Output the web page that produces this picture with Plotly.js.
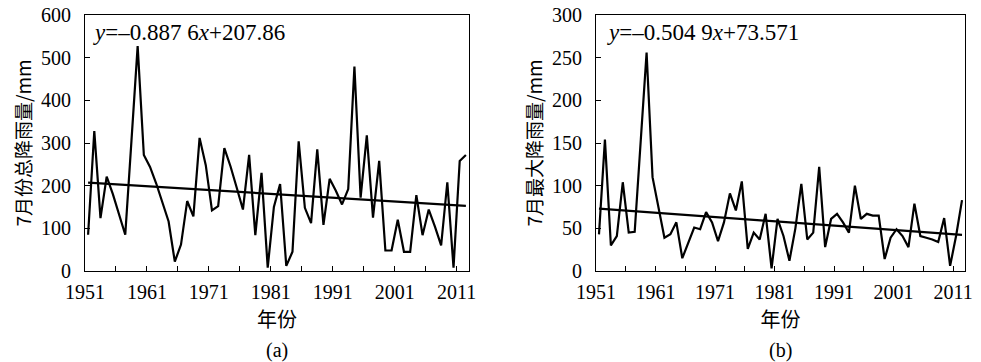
<!DOCTYPE html>
<html>
<head>
<meta charset="utf-8">
<script src="https://cdn.plot.ly/plotly-3.0.1.min.js"></script>
<style>html,body{margin:0;padding:0;background:#fff;}#chart{width:981px;height:362px;}</style>
</head>
<body>
<div id="chart"></div>
<script>
// Years 1951–2012
const years = [];
for (let y = 1951; y <= 2012; y++) years.push(y);

// (a) July total rainfall (mm)
const totalRain = [85,328,124,221,180,130,85,305,527,272,
  244,205,160,116,22,62,164,128,312,248,
  142,152,288,245,195,144,272,84,230,8,
  150,204,12,45,304,148,112,285,108,216,
  188,156,192,479,172,318,125,258,48,48,
  120,45,45,178,84,144,104,60,208,8,
  258,272];

// (b) July maximum rainfall (mm)
const maxRain = [43,154,30,41,104,45,46,150,256,110,
  75,39,43,57,15,33,51,49,69,57,
  35,57,91,71,105,26,45,37,67,3,
  61,41,12,50,102,37,45,122,28,61,
  67,57,45,100,61,67,65,65,14,39,
  49,41,28,79,41,39,37,34,62,6,
  41,83];

// Regression coefficients (x = 1..62)
const trendA = {slope: -0.8876, intercept: 207.86};
const trendB = {slope: -0.5049, intercept: 73.571};

const tickLabels = [1951,1961,1971,1981,1991,2001,2011];
const yTicksA = [0,100,200,300,400,500,600];
const yTicksB = [0,50,100,150,200,250,300];

const trendVals = (c) => years.map((y, i) => c.slope * (i + 1) + c.intercept);

const serif = 'Liberation Serif, Times New Roman, serif';
const cjk = 'Noto Sans CJK SC, sans-serif';

const lineStyle = {color: '#000', width: 2.2};

const traces = [
  {x: years, y: totalRain, type: 'scatter', mode: 'lines', line: lineStyle, xaxis: 'x', yaxis: 'y'},
  {x: years, y: trendVals(trendA), type: 'scatter', mode: 'lines', line: lineStyle, xaxis: 'x', yaxis: 'y'},
  {x: years, y: maxRain, type: 'scatter', mode: 'lines', line: lineStyle, xaxis: 'x2', yaxis: 'y2'},
  {x: years, y: trendVals(trendB), type: 'scatter', mode: 'lines', line: lineStyle, xaxis: 'x2', yaxis: 'y2'}
];

function xAxis(domain, anchor) {
  return {
    domain: domain, anchor: anchor,
    range: [1950.5, 2012.5],
    tickmode: 'array',
    tickvals: tickLabels.map(v => v - 0.5),
    ticktext: tickLabels.map(String),
    ticks: 'inside', ticklen: 5, tickcolor: '#000', tickwidth: 1,
    ticklabelstandoff: 3,
    minor: {tickmode: 'linear', tick0: 1950.5, dtick: 5, ticks: 'inside', ticklen: 5, tickcolor: '#000', tickwidth: 1, showgrid: false},
    showline: true, linecolor: '#000', linewidth: 1, mirror: true,
    showgrid: false, zeroline: false,
    tickfont: {family: serif, size: 20, color: '#000'},
    title: {text: '年份', font: {family: cjk, size: 20, color: '#000'}, standoff: 10},
    fixedrange: true
  };
}
function yAxis(domain, anchor, range, ticks, title) {
  return {
    domain: domain, anchor: anchor,
    range: range,
    tickmode: 'array', tickvals: ticks, ticktext: ticks.map(String),
    ticks: 'inside', ticklen: 5, tickcolor: '#000', tickwidth: 1,
    ticklabelstandoff: 9,
    showline: true, linecolor: '#000', linewidth: 1, mirror: true,
    showgrid: false, zeroline: false,
    tickfont: {family: serif, size: 20, color: '#000'},
    title: {text: title, font: {family: cjk, size: 19, color: '#000'}, standoff: 4},
    fixedrange: true
  };
}

const yDom = [(362 - 271) / 362, (362 - 15) / 362];
const layout = {
  width: 981, height: 362,
  margin: {l: 0, r: 0, t: 0, b: 0},
  paper_bgcolor: '#fff', plot_bgcolor: '#fff',
  showlegend: false,
  xaxis: xAxis([85 / 981, 469 / 981], 'y'),
  yaxis: yAxis(yDom, 'x', [0, 600], yTicksA, '7月份总降雨量/mm'),
  xaxis2: xAxis([596 / 981, 965 / 981], 'y2'),
  yaxis2: yAxis(yDom, 'x2', [0, 300], yTicksB, '7月最大降雨量/mm'),
  annotations: [
    {xref: 'x domain', yref: 'y domain', x: 0.015, y: 0.99, xanchor: 'left', yanchor: 'top', showarrow: false,
     text: '<i>y</i>=–0.887 6<i>x</i>+207.86', font: {family: serif, size: 23, color: '#000'}},
    {xref: 'x2 domain', yref: 'y2 domain', x: 0.025, y: 0.99, xanchor: 'left', yanchor: 'top', showarrow: false,
     text: '<i>y</i>=–0.504 9<i>x</i>+73.571', font: {family: serif, size: 23, color: '#000'}},
    {xref: 'x domain', yref: 'paper', x: 0.5, y: 12 / 362, xanchor: 'center', yanchor: 'middle', showarrow: false,
     text: '(a)', font: {family: serif, size: 20, color: '#000'}},
    {xref: 'x2 domain', yref: 'paper', x: 0.5, y: 12 / 362, xanchor: 'center', yanchor: 'middle', showarrow: false,
     text: '(b)', font: {family: serif, size: 20, color: '#000'}}
  ]
};

Plotly.newPlot('chart', traces, layout, {displayModeBar: false, staticPlot: true});
</script>
</body>
</html>
